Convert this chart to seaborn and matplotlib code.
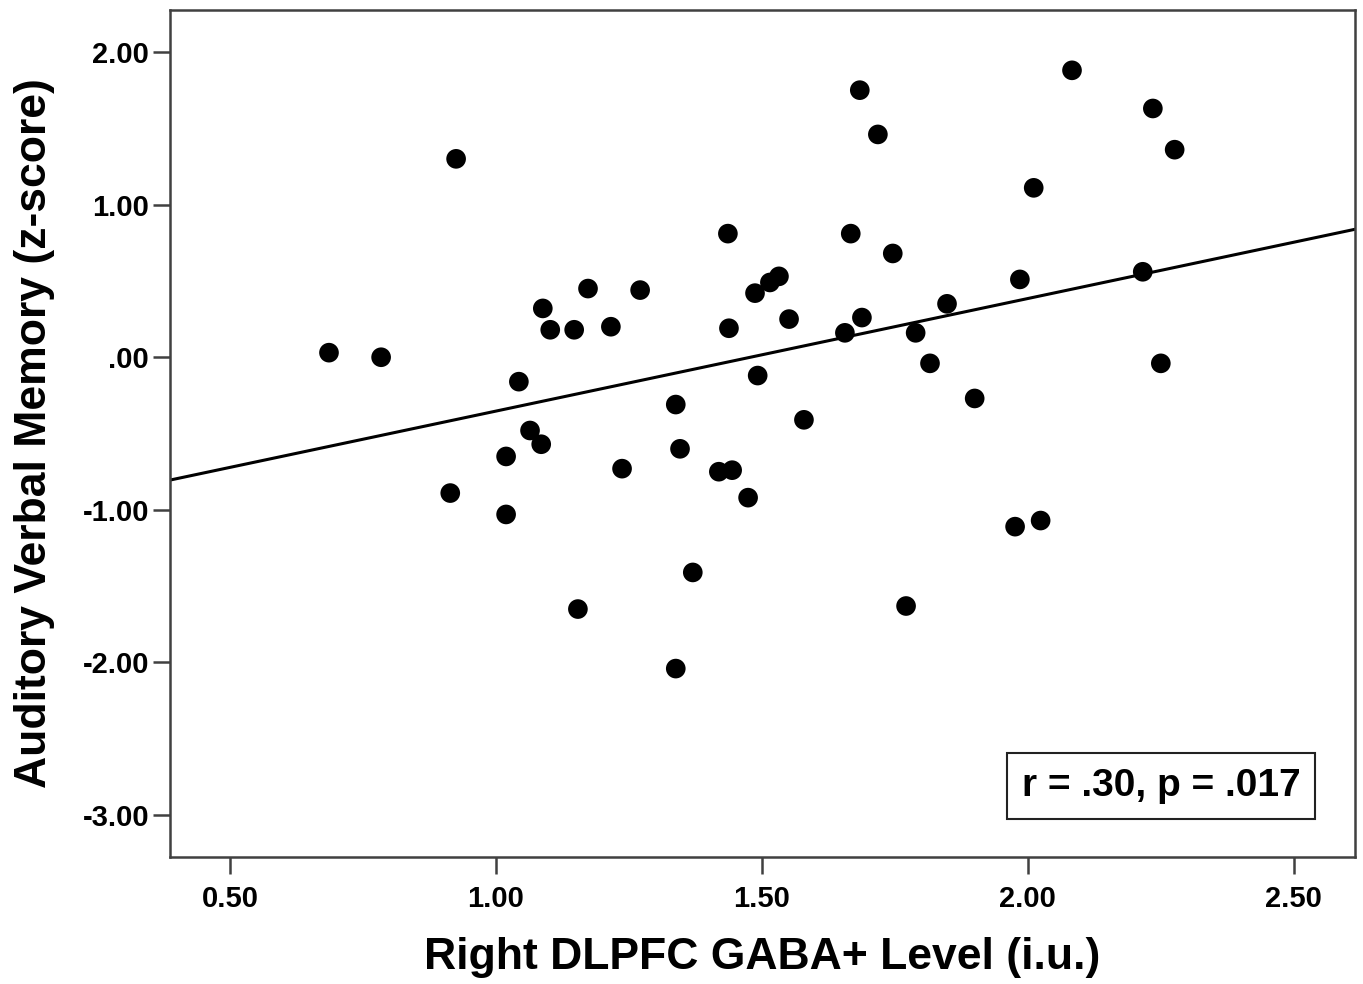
import matplotlib
matplotlib.use("Agg")
import matplotlib.pyplot as plt
import seaborn as sns
import numpy as np
import pandas as pd

# values
gaba = [0.686, 0.784, 0.925, 0.914, 1.019, 1.019, 1.043, 1.064, 1.085, 1.088,
        1.102, 1.147, 1.154, 1.173, 1.216, 1.237, 1.271, 1.338, 1.338, 1.346,
        1.370, 1.419, 1.444, 1.436, 1.438, 1.474, 1.487, 1.492, 1.515, 1.532,
        1.551, 1.579, 1.656, 1.667, 1.684, 1.688, 1.718, 1.746, 1.771, 1.789,
        1.816, 1.848, 1.900, 1.976, 1.985, 2.011, 2.024, 2.083, 2.216, 2.235,
        2.250, 2.276]
memory = [0.03, 0.00, 1.30, -0.89, -0.65, -1.03, -0.16, -0.48, -0.57, 0.32,
          0.18, 0.18, -1.65, 0.45, 0.20, -0.73, 0.44, -0.31, -2.04, -0.60,
          -1.41, -0.75, -0.74, 0.81, 0.19, -0.92, 0.42, -0.12, 0.49, 0.53,
          0.25, -0.41, 0.16, 0.81, 1.75, 0.26, 1.46, 0.68, -1.63, 0.16,
          -0.04, 0.35, -0.27, -1.11, 0.51, 1.11, -1.07, 1.88, 0.56, 1.63,
          -0.04, 1.36]
x_ticks = [0.5, 1.0, 1.5, 2.0, 2.5]
x_tick_labels = ["0.50", "1.00", "1.50", "2.00", "2.50"]
y_ticks = [2.0, 1.0, 0.0, -1.0, -2.0, -3.0]
y_tick_labels = ["2.00", "1.00", ".00", "-1.00", "-2.00", "-3.00"]
stats_text = "r = .30, p = .017"

df = pd.DataFrame({"gaba": gaba, "memory": memory})

sns.set_style("white")
plt.rcParams['font.family'] = ['Liberation Sans', 'DejaVu Sans']
plt.rcParams['font.weight'] = 'bold'
plt.rcParams['text.color'] = 'black'
plt.rcParams['axes.labelcolor'] = 'black'
plt.rcParams['xtick.color'] = 'black'
plt.rcParams['ytick.color'] = 'black'

fig = plt.figure(figsize=(13.63, 9.84), dpi=100)
ax = fig.add_axes([0.1247, 0.129, 0.8694, 0.8608])
ax.set_xlim(0.387, 2.615)
ax.set_ylim(-3.275, 2.275)

sns.regplot(data=df, x="gaba", y="memory", ax=ax, ci=None, truncate=False,
            scatter_kws={"s": 200, "color": "black", "edgecolor": "none", "alpha": 1},
            line_kws={"color": "black", "linewidth": 2.2})

ax.set_xticks(x_ticks)
ax.set_xticklabels(x_tick_labels, fontsize=21, fontweight='bold')
ax.set_yticks(y_ticks)
ax.set_yticklabels(y_tick_labels, fontsize=21, fontweight='bold')
ax.tick_params(axis='both', direction='out', length=12, width=1.8, color='#404040',
               labelcolor='black', left=True, bottom=True, pad=3)
ax.tick_params(axis='x', pad=8)

for s in ax.spines.values():
    s.set_visible(True)
    s.set_color('#404040')
    s.set_linewidth(1.8)

ax.set_xlabel("Right DLPFC GABA+ Level (i.u.)", fontsize=32, fontweight='bold', va='center')
ax.set_ylabel("Auditory Verbal Memory (z-score)", fontsize=32, fontweight='bold', va='center')
ax.xaxis.set_label_coords(0.5, -0.118)
ax.yaxis.set_label_coords(-0.114, 0.5)

ax.text(0.954, 0.084, stats_text, transform=ax.transAxes, ha='right', va='center',
        fontsize=28, fontweight='bold',
        bbox=dict(boxstyle='square,pad=0.38', facecolor='white', edgecolor='#222222', linewidth=1.5))

fig.savefig("out.png", dpi=100)
